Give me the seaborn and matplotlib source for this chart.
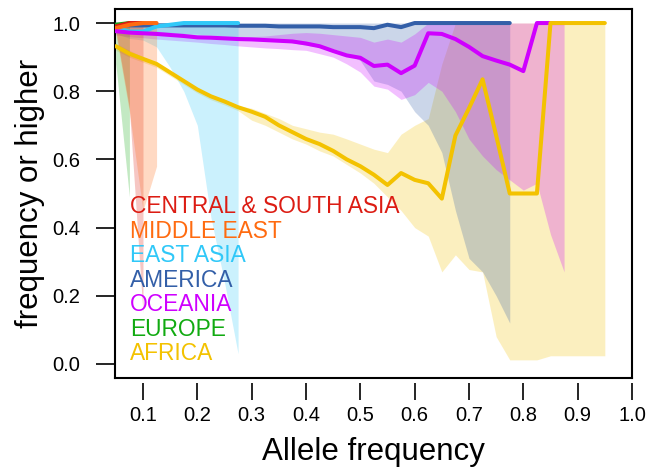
import matplotlib
matplotlib.use("Agg")
import matplotlib.pyplot as plt
import seaborn as sns
import pandas as pd

# ---------------- data ----------------
freq = [0.05, 0.075, 0.1, 0.125, 0.15, 0.175, 0.2, 0.225, 0.25, 0.275,
        0.3, 0.325, 0.35, 0.375, 0.4, 0.425, 0.45, 0.475, 0.5, 0.525,
        0.55, 0.575, 0.6, 0.625, 0.65, 0.675, 0.7, 0.725, 0.75, 0.775,
        0.8, 0.825, 0.85, 0.875, 0.9, 0.925, 0.95]

regions = ["CENTRAL & SOUTH ASIA", "MIDDLE EAST", "EAST ASIA", "AMERICA",
           "OCEANIA", "EUROPE", "AFRICA"]
colors = ["#DC1C13", "#FF6B10", "#30C8F8", "#335FA8", "#CF00FF", "#11AA11", "#F3C200"]

csa_mid = [0.99, 1.0, 1.0]
csa_lo = [0.98, 0.75, 0.15]
csa_hi = [1.0, 1.0, 1.0]

me_mid = [0.985, 0.995, 1.0, 1.0]
me_lo = [0.97, 0.74, 0.45, 0.58]
me_hi = [1.0, 1.0, 1.0, 1.0]

ea_mid = [0.985, 0.975, 0.975, 0.99, 0.995, 1.0, 1.0, 1.0, 1.0, 1.0]
ea_lo = [0.97, 0.955, 0.95, 0.93, 0.87, 0.80, 0.70, 0.43, 0.24, 0.03]
ea_hi = [1.0, 1.0, 1.0, 1.0, 1.0, 1.0, 1.0, 1.0, 1.0, 1.0]

am_mid = [0.995, 0.993, 0.993, 0.993, 0.993, 0.993, 0.993, 0.993, 0.993, 0.992,
          0.992, 0.992, 0.99, 0.99, 0.99, 0.99, 0.988, 0.988, 0.988, 0.985,
          0.995, 0.988, 1.0, 1.0, 1.0, 1.0, 1.0, 1.0, 1.0, 1.0]
am_lo = [0.978, 0.977, 0.975, 0.973, 0.971, 0.969, 0.967, 0.965, 0.962, 0.96,
         0.957, 0.953, 0.948, 0.942, 0.935, 0.93, 0.925, 0.91, 0.89, 0.83,
         0.82, 0.80, 0.74, 0.70, 0.62, 0.45, 0.31, 0.27, 0.20, 0.12]
am_hi = [1.0, 1.0, 1.0, 1.0, 1.0, 1.0, 1.0, 1.0, 1.0, 1.0,
         1.0, 1.0, 1.0, 1.0, 1.0, 1.0, 1.0, 1.0, 1.0, 1.0,
         1.0, 1.0, 1.0, 1.0, 1.0, 1.0, 1.0, 1.0, 1.0, 1.0]

oc_mid = [0.976, 0.972, 0.97, 0.968, 0.965, 0.962, 0.958, 0.957, 0.955, 0.953,
          0.952, 0.95, 0.948, 0.946, 0.94, 0.932, 0.918, 0.905, 0.898, 0.874,
          0.878, 0.853, 0.875, 0.97, 0.968, 0.953, 0.93, 0.903, 0.89, 0.878,
          0.859, 1.0, 1.0, 1.0]
oc_lo = [0.965, 0.96, 0.957, 0.953, 0.95, 0.947, 0.944, 0.94, 0.937, 0.933,
         0.93, 0.927, 0.925, 0.922, 0.92, 0.91, 0.90, 0.88, 0.856, 0.815,
         0.806, 0.776, 0.79, 0.826, 0.80, 0.74, 0.66, 0.61, 0.57, 0.54,
         0.51, 0.53, 0.38, 0.27]
oc_hi = [0.984, 0.98, 0.978, 0.976, 0.973, 0.97, 0.966, 0.965, 0.963, 0.961,
         0.96, 0.962, 0.966, 0.97, 0.972, 0.97, 0.966, 0.962, 0.958, 0.944,
         0.953, 0.944, 0.968, 1.0, 1.0, 1.0, 1.0, 1.0, 1.0, 1.0,
         1.0, 1.0, 1.0, 1.0]

eu_mid = [0.995, 1.0]
eu_lo = [0.88, 0.49]
eu_hi = [0.99, 0.99]

af_mid = [0.932, 0.91, 0.895, 0.88, 0.855, 0.83, 0.805, 0.785, 0.77, 0.753,
          0.74, 0.725, 0.70, 0.68, 0.66, 0.645, 0.625, 0.60, 0.58, 0.555,
          0.525, 0.56, 0.54, 0.53, 0.485, 0.67, 0.75, 0.835, 0.67, 0.50,
          0.50, 0.50, 1.0, 1.0, 1.0, 1.0, 1.0]
af_lo = [0.92, 0.90, 0.885, 0.87, 0.845, 0.82, 0.795, 0.775, 0.76, 0.743,
         0.715, 0.70, 0.68, 0.66, 0.645, 0.625, 0.61, 0.585, 0.56, 0.53,
         0.49, 0.45, 0.40, 0.375, 0.27, 0.32, 0.277, 0.27, 0.08, 0.012,
         0.012, 0.012, 0.024, 0.024, 0.024, 0.024, 0.024]
af_hi = [0.94, 0.92, 0.90, 0.885, 0.86, 0.835, 0.81, 0.79, 0.775, 0.758,
         0.75, 0.735, 0.72, 0.70, 0.69, 0.68, 0.674, 0.66, 0.645, 0.63,
         0.62, 0.674, 0.70, 0.72, 0.88, 1.0, 1.0, 1.0, 1.0, 1.0,
         1.0, 1.0, 1.0, 1.0, 1.0, 1.0, 1.0]

series = {
    "CENTRAL & SOUTH ASIA": (csa_mid, csa_lo, csa_hi),
    "MIDDLE EAST": (me_mid, me_lo, me_hi),
    "EAST ASIA": (ea_mid, ea_lo, ea_hi),
    "AMERICA": (am_mid, am_lo, am_hi),
    "OCEANIA": (oc_mid, oc_lo, oc_hi),
    "EUROPE": (eu_mid, eu_lo, eu_hi),
    "AFRICA": (af_mid, af_lo, af_hi),
}

yticks = [0.0, 0.2, 0.4, 0.6, 0.8, 1.0]
xticks = [0.1, 0.2, 0.3, 0.4, 0.5, 0.6, 0.7, 0.8, 0.9, 1.0]

# ---------------- build long table ----------------
rows = []
for name in regions:
    mid, lo, hi = series[name]
    for f, m, l, h in zip(freq, mid, lo, hi):
        rows.append({"region": name, "freq": f, "mid": m, "lo": l, "hi": h})
df = pd.DataFrame(rows)

# ---------------- figure ----------------
sns.set_theme(style="white")
plt.rcParams['font.family'] = ['Liberation Sans', 'DejaVu Sans']

W, H = 647, 469
fig = plt.figure(figsize=(W / 100, H / 100), dpi=100)
ax = fig.add_axes([115 / W, 1 - 377.6 / H, 517 / W, 368.2 / H])
cmap = dict(zip(regions, colors))

band_order = ["AFRICA", "AMERICA", "OCEANIA", "EAST ASIA", "EUROPE",
              "CENTRAL & SOUTH ASIA", "MIDDLE EAST"]
for i, name in enumerate(band_order):
    d = df[df.region == name]
    ax.fill_between(d["freq"], d["lo"], d["hi"], color=cmap[name],
                    alpha=0.25, linewidth=0, zorder=1 + i * 0.01)

line_order = ["AMERICA", "EAST ASIA", "EUROPE", "CENTRAL & SOUTH ASIA",
              "MIDDLE EAST", "OCEANIA", "AFRICA"]
for i, name in enumerate(line_order):
    d = df[df.region == name]
    sns.lineplot(data=d, x="freq", y="mid", color=cmap[name], linewidth=2.9,
                 ax=ax, legend=False, zorder=3 + i * 0.01)

ax.set_xlim(0.0485, 1.0)
ax.set_ylim(-0.04, 1.04)

for s in ax.spines.values():
    s.set_visible(True)
    s.set_color("black")
    s.set_linewidth(1.5)

ax.set_yticks(yticks)
ax.set_yticklabels([f"{v:.1f}" for v in yticks])
ax.tick_params(axis="y", direction="out", length=14, width=1.2, pad=11,
               labelsize=14.5, colors="black", left=True)
ax.tick_params(axis="x", bottom=False, labelbottom=False)

sec = ax.secondary_xaxis(-0.016)
sec.set_xticks(xticks)
sec.set_xticklabels([f"{v:.1f}" for v in xticks])
sec.spines["bottom"].set_visible(False)
sec.tick_params(axis="x", direction="out", length=12.5, width=1.2, pad=4,
                labelsize=14.5, colors="black")

ax.set_xlabel("Allele frequency", fontsize=22.5, color="black")
ax.xaxis.set_label_coords(0.5, -0.162)
ax.set_ylabel("frequency or higher", fontsize=22.5, color="black")
ax.yaxis.set_label_coords(-0.135, 0.5)

for i, name in enumerate(regions):
    ax.text(0.029, 0.462 - i * 0.072, name, color=cmap[name], fontsize=16.4,
            va="center", ha="left", transform=ax.get_yaxis_transform(),
            zorder=5)

fig.savefig("out.png", dpi=100)
